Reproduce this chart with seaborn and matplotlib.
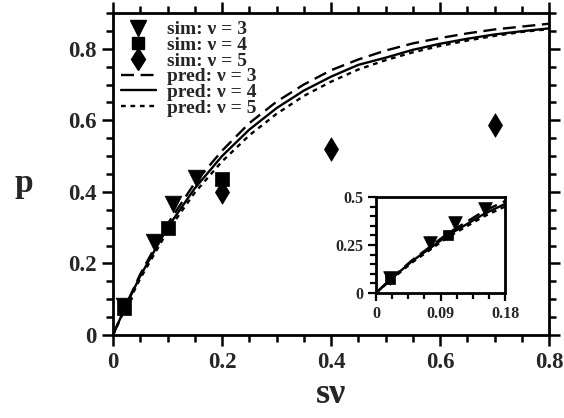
import matplotlib
matplotlib.use("Agg")
import matplotlib.pyplot as plt
from matplotlib.ticker import MultipleLocator
from matplotlib.lines import Line2D
import seaborn as sns
import pandas as pd

sns.set_theme(style="ticks")
plt.rcParams['font.family'] = ['Liberation Serif', 'DejaVu Serif']
plt.rcParams['font.weight'] = 'bold'
plt.rcParams['mathtext.default'] = 'regular'

# ---- data ----
sim3_sv = [0.02, 0.075, 0.11, 0.152]
sim3_p = [0.08, 0.26, 0.365, 0.44]
sim4_sv = [0.02, 0.10, 0.20]
sim4_p = [0.075, 0.30, 0.435]
sim5_sv = [0.20, 0.40, 0.70]
sim5_p = [0.40, 0.52, 0.587]

pred_sv = [0, 0.02, 0.05, 0.1, 0.15, 0.2, 0.25, 0.3, 0.35, 0.4, 0.45, 0.5,
           0.55, 0.6, 0.65, 0.7, 0.75, 0.8]
pred3_p = [0, 0.072, 0.17, 0.31, 0.425, 0.515, 0.592, 0.652, 0.70, 0.74, 0.77,
           0.795, 0.815, 0.83, 0.843, 0.854, 0.862, 0.87]
pred4_p = [0, 0.070, 0.165, 0.30, 0.41, 0.50, 0.574, 0.634, 0.683, 0.722, 0.755,
           0.775, 0.797, 0.814, 0.828, 0.84, 0.849, 0.857]
pred5_p = [0, 0.066, 0.158, 0.29, 0.398, 0.485, 0.558, 0.618, 0.668, 0.708, 0.742,
           0.768, 0.79, 0.808, 0.823, 0.836, 0.847, 0.855]

labels_sim = ["sim: ν = 3", "sim: ν = 4", "sim: ν = 5"]
labels_pred = ["pred: ν = 3", "pred: ν = 4", "pred: ν = 5"]

x_main_ticks = [0, 0.2, 0.4, 0.6, 0.8]
y_main_ticks = [0, 0.2, 0.4, 0.6, 0.8]
x_in_ticks = [0, 0.09, 0.18]
y_in_ticks = [0, 0.25, 0.5]

# ---- styling ----
LW = 1.7
dash_long = (5.5, 2.8)
dash_short = (2.0, 2.0)
line_styles = [dict(dashes=dash_long), dict(linestyle='-'), dict(dashes=dash_short)]
markers = ['v', 's', 'd']
msizes = [12, 9.5, 12]

fig = plt.figure(figsize=(5.64, 4.18), dpi=100)
ax = fig.add_axes([0.2004, 0.1986, 0.7730, 0.7703])
axin = fig.add_axes([0.6667, 0.2990, 0.2287, 0.2297])

pred_df = pd.DataFrame({"sv": pred_sv, "p3": pred3_p, "p4": pred4_p, "p5": pred5_p})
sims = [(sim3_sv, sim3_p), (sim4_sv, sim4_p), (sim5_sv, sim5_p)]


def draw(a, scale=1.0):
    for col, st in zip(["p3", "p4", "p5"], line_styles):
        sns.lineplot(data=pred_df, x="sv", y=col, ax=a, color='black', lw=LW,
                     legend=False, **st)
    for (sx, sy), m, ms in zip(sims, markers, msizes):
        sns.scatterplot(x=sx, y=sy, ax=a, marker=m, s=(ms * scale) ** 2,
                        color='black', edgecolor='black', linewidth=0.5,
                        legend=False, zorder=5)


draw(ax)
draw(axin, scale=0.82)

# main axes
ax.set_xlim(0, 0.8)
ax.set_ylim(0, 0.9)
ax.set_xticks(x_main_ticks)
ax.set_yticks(y_main_ticks)
ax.set_xticklabels(["0", "0.2", "0.4", "0.6", "0.8"])
ax.set_yticklabels(["0", "0.2", "0.4", "0.6", "0.8"])
ax.xaxis.set_minor_locator(MultipleLocator(0.05))
ax.yaxis.set_minor_locator(MultipleLocator(0.05))
ax.tick_params(which='both', direction='out', top=True, right=True, width=1.8,
               color='black')
ax.tick_params(which='major', length=8, labelsize=16.5, pad=4)
ax.tick_params(which='minor', length=5)
for lab in ax.get_xticklabels() + ax.get_yticklabels():
    lab.set_fontweight('bold')
for sp in ax.spines.values():
    sp.set_linewidth(2)
    sp.set_color('black')
ax.set_xlabel("sν", fontsize=26, fontweight='bold', labelpad=4)
ax.set_ylabel("p", fontsize=24, fontweight='bold', rotation=0, va='center',
              ha='center')
ax.yaxis.set_label_coords(-0.205, 0.47)

# inset axes
axin.set_xlim(0, 0.18)
axin.set_ylim(0, 0.5)
axin.set_xticks(x_in_ticks)
axin.set_yticks(y_in_ticks)
axin.set_xticklabels(["0", "0.09", "0.18"])
axin.set_yticklabels(["0", "0.25", "0.5"])
axin.xaxis.set_minor_locator(MultipleLocator(0.0225))
axin.yaxis.set_minor_locator(MultipleLocator(0.05))
axin.tick_params(which='both', direction='out', width=1.6, color='black')
axin.tick_params(which='major', length=6, labelsize=11.5, pad=3)
axin.tick_params(which='minor', length=4)
for lab in axin.get_xticklabels() + axin.get_yticklabels():
    lab.set_fontweight('bold')
for sp in axin.spines.values():
    sp.set_linewidth(2)
    sp.set_color('black')
axin.set_xlabel("")
axin.set_ylabel("")

# legend
handles = []
for m, ms in zip(markers, msizes):
    handles.append(Line2D([], [], marker=m, color='black', linestyle='none',
                          markersize=ms * 0.95))
for st in line_styles:
    handles.append(Line2D([], [], color='black', lw=LW, **st))
ax.legend(handles, labels_sim + labels_pred, loc='upper left', frameon=False,
          prop={'family': 'Liberation Serif', 'weight': 'bold', 'size': 14},
          handlelength=1.8, handletextpad=0.6, labelspacing=-0.1,
          borderaxespad=0.2, borderpad=0.2)

fig.savefig("out.png", dpi=100)
